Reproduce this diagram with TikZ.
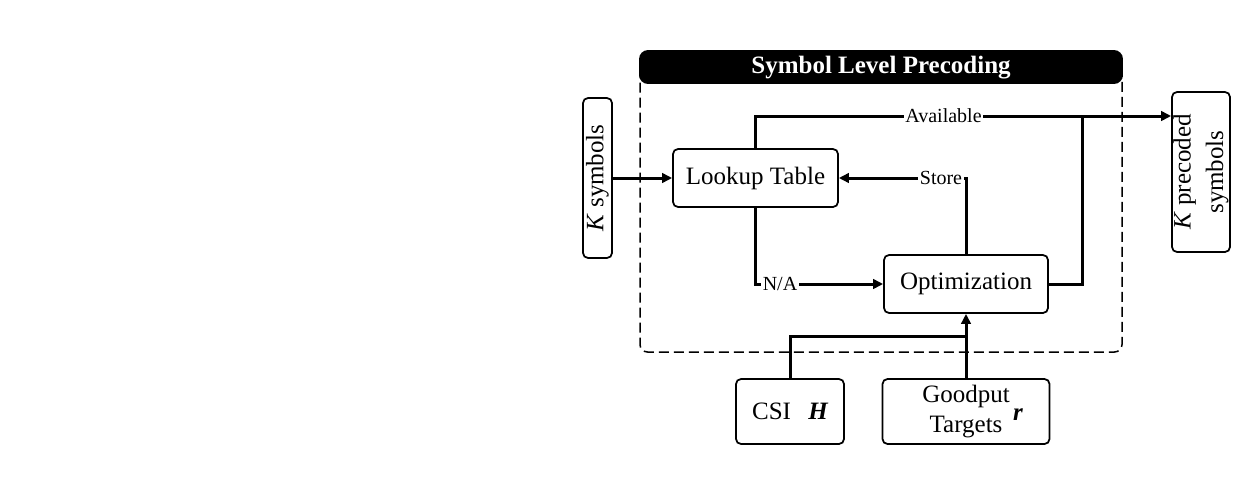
\documentclass[tikz,border=0pt]{standalone}
\usepackage{fontspec}
\setmainfont{Liberation Serif}
\usetikzlibrary{arrows.meta}

\tikzset{every picture/.style={line width=0.75pt}}
\tikzset{
  blk/.style={draw, rounded corners=2pt, line width=0.7pt, inner sep=0pt, align=center, font=\fontsize{10}{12}\selectfont},
  flow/.style={line width=1.2pt},
  flowarr/.style={flow, -{Triangle[length=4pt,width=3.8pt]}},
  tag/.style={fill=white, inner sep=0.6pt, font=\fontsize{8}{9}\selectfont},
}

\begin{document}
\begin{tikzpicture}[x=0.4pt,y=0.4pt,yscale=-1,xscale=1]
	\useasboundingbox (0,0) rectangle (1245,493);
	
	%Rounded Rect (dashed frame)
	\draw [dash pattern={on 4pt off 2pt}, line width=0.6pt, rounded corners=3pt] (640,60) rectangle (1122,352);
	%Rounded Rect (header)
	\draw [fill=black, rounded corners=3.2pt] (640,51) rectangle (1122,83);
	% Text Node
	\node [text=white, font=\bfseries\fontsize{10}{12}\selectfont] (hdr) at (881,68) {Symbol Level Precoding};
	
	%Rounded Rect
	\node [blk, rotate=90, minimum width=64pt, minimum height=11.6pt] (ksym) at (597.5,178) {\textit{K} symbols};
	%Rounded Rect
	\node [blk, minimum width=66pt, minimum height=23.2pt] (lookup) at (755.5,178) {Lookup Table};
	%Rounded Rect
	\node [blk, minimum width=65.6pt, minimum height=23.2pt] (optim) at (966,284) {Optimization};
	%Rounded Rect
	\node [blk, rotate=90, minimum width=64pt, minimum height=23.2pt, font=\fontsize{10}{13}\selectfont] (kprec) at (1201,172) {\textit{K} precoded\\symbols};
	%Rounded Rect
	\node [blk, minimum width=43.2pt, minimum height=26pt] (csi) at (790,411.5) {CSI\hspace{0.7em}{\bfseries\itshape H}};
	%Rounded Rect
	\node [blk, minimum width=66.8pt, minimum height=26pt] (goodput) at (966,411.5) {Goodput\\Targets};
	% Text Node
	\node [font=\fontsize{10}{12}\selectfont] (rvec) at (1018,415) {\bfseries\itshape r};
	
	\coordinate (join) at (1082,116);
	\coordinate (tap) at (966,336);
	
	%Straight Lines
	\draw [flowarr] (ksym) -- (lookup);
	\draw [flowarr] (lookup.north) |- (kprec.north |- join);
	\draw [flow] (optim.east) -| (join);
	\draw [flowarr] (optim.north) |- (lookup.east);
	\draw [flowarr] (lookup.south) |- (optim.west);
	\draw [flow] (csi.north) |- (tap);
	\draw [flowarr] (goodput) -- (optim);
	
	% Text Node
	\node [tag] (avail) at (943.5,116) {Available};
	% Text Node
	\node [tag] (store) at (941,178) {Store};
	% Text Node
	\node [tag] (na) at (780,284) {N/A};
	
\end{tikzpicture}
\end{document}
